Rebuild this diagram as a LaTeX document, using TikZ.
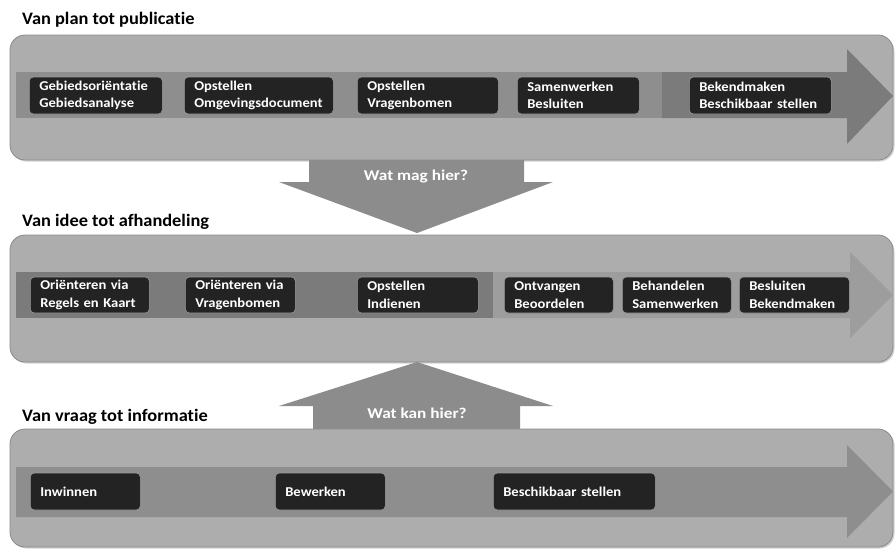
\documentclass[tikz,border=0pt]{standalone}
\usepackage{fontspec}
\setmainfont{Carlito}[Ligatures=NoCommon]
\newfontfamily\boxfont{Carlito}[FakeStretch=1.08,Ligatures=NoCommon]
\newfontfamily\arrowfont{Carlito}[FakeStretch=1.15,Ligatures=NoCommon]
\newfontfamily\titlefont{Carlito}[FakeStretch=1.05,Ligatures=NoCommon]
\usetikzlibrary{shadows}
\definecolor{panelgray}{HTML}{ADADAD}
\definecolor{paneledge}{HTML}{8A8A8A}
\definecolor{bandmid}{HTML}{8E8E8E}
\definecolor{banddark}{HTML}{7B7B7B}
\definecolor{bandlight}{HTML}{9D9D9D}
\definecolor{boxblack}{HTML}{232323}
\definecolor{boxedge}{HTML}{9A9A9A}
\definecolor{bigarrow}{HTML}{8C8C8C}
\tikzset{
  panel/.style={fill=panelgray, draw=paneledge, line width=0.8pt, rounded corners=15pt,
    drop shadow={shadow xshift=1.5pt, shadow yshift=-1.5pt, opacity=0.35}},
  stepbox/.style={fill=boxblack, draw=boxedge, line width=0.6pt, rounded corners=4pt,
    text=white, font=\boxfont\bfseries\fontsize{13.5}{17.5}\selectfont, align=left,
    inner xsep=10pt, inner ysep=0pt, anchor=west},
  paneltitle/.style={font=\titlefont\bfseries\fontsize{17.5}{20}\selectfont, anchor=west, inner sep=0pt},
  arrowlabel/.style={text=white, font=\arrowfont\bfseries\fontsize{15}{18}\selectfont, inner sep=0pt}
}
\begin{document}
\begin{tikzpicture}[x=1pt,y=-1pt]
\useasboundingbox (0,0) rectangle (895,549);
\fill[white] (0,0) rectangle (895,549);

% ---------- panel 1 ----------
\node[paneltitle] (t1) at (22,20) {Van plan tot publicatie};
\path[panel] (10,35) rectangle (893,160);
\fill[bandmid] (16,72) rectangle (662,118);
\fill[banddark] (662,72) -- (847,72) -- (847,49) -- (893,96) -- (847,144) -- (847,118) -- (662,118) -- cycle;
\node[stepbox, text width=113pt, minimum height=37pt] (a1) at (29,95.5) {Gebiedsoriëntatie\\Gebiedsanalyse};
\node[stepbox, text width=129pt, minimum height=37pt] (a2) at (184,95.5) {Opstellen\\Omgevingsdocument};
\node[stepbox, text width=121pt, minimum height=37pt] (a3) at (357,95.5) {Opstellen\\Vragenbomen};
\node[stepbox, text width=102pt, minimum height=37pt] (a4) at (517,95.5) {Samenwerken\\Besluiten};
\node[stepbox, text width=122pt, minimum height=37pt] (a5) at (689,95.5) {Bekendmaken\\Beschikbaar stellen};

% ---------- down arrow ----------
\fill[bigarrow] (309,160) -- (524,160) -- (524,182) -- (553,182) -- (417,233) -- (279,182) -- (309,182) -- cycle;
\node[arrowlabel] (wm) at (416,177) {Wat mag hier?};

% ---------- panel 2 ----------
\node[paneltitle] (t2) at (22,222) {Van idee tot afhandeling};
\path[panel] (10,235) rectangle (893,362);
\fill[banddark] (16,272) rectangle (493,318);
\fill[bandlight] (493,272) -- (850,272) -- (850,252) -- (893,295) -- (850,338) -- (850,318) -- (493,318) -- cycle;
\node[stepbox, text width=99pt, minimum height=36pt] (b1) at (30,295) {Oriënteren via\\Regels en Kaart};
\node[stepbox, text width=90pt, minimum height=36pt] (b2) at (185,295) {Oriënteren via\\Vragenbomen};
\node[stepbox, text width=101pt, minimum height=36pt] (b3) at (357,295) {Opstellen\\Indienen};
\node[stepbox, text width=89pt, minimum height=36pt] (b4) at (504,295) {Ontvangen\\Beoordelen};
\node[stepbox, text width=89pt, minimum height=36pt] (b5) at (622,295) {Behandelen\\Samenwerken};
\node[stepbox, text width=90pt, minimum height=36pt] (b6) at (739,295) {Besluiten\\Bekendmaken};

% ---------- up arrow ----------
\fill[bigarrow] (313,429) -- (520,429) -- (520,406) -- (553,406) -- (417,362) -- (279,406) -- (313,406) -- cycle;
\node[arrowlabel] (wk) at (417,413) {Wat kan hier?};

% ---------- panel 3 ----------
\node[paneltitle] (t3) at (22,417) {Van vraag tot informatie};
\path[panel] (10,429) rectangle (893,547);
\fill[bandmid] (16,467) -- (847,467) -- (847,445) -- (893,491.5) -- (847,538) -- (847,517) -- (16,517) -- cycle;
\node[stepbox, text width=90pt, minimum height=37pt] (c1) at (30,491.5) {Inwinnen};
\node[stepbox, text width=90pt, minimum height=37pt] (c2) at (275,491.5) {Bewerken};
\node[stepbox, text width=142pt, minimum height=37pt] (c3) at (493,491.5) {Beschikbaar stellen};
\end{tikzpicture}
\end{document}
